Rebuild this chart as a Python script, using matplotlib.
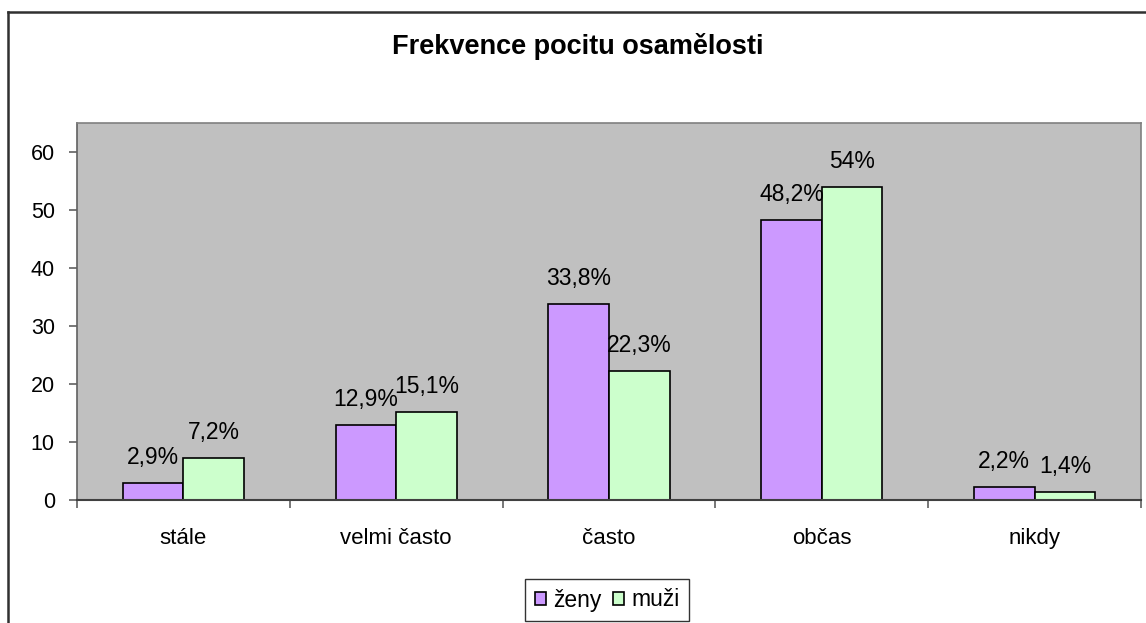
import matplotlib.pyplot as plt
import numpy as np
from matplotlib.lines import Line2D

plt.rcParams['font.family'] = ['Liberation Sans', 'DejaVu Sans']

# data
categories = ['stále', 'velmi často', 'často', 'občas', 'nikdy']
zeny = [2.9, 12.9, 33.8, 48.2, 2.2]
muzi = [7.2, 15.1, 22.3, 54.0, 1.4]
zeny_labels = ['2,9%', '12,9%', '33,8%', '48,2%', '2,2%']
muzi_labels = ['7,2%', '15,1%', '22,3%', '54%', '1,4%']

fig = plt.figure(figsize=(11.46, 6.23), dpi=100)
ax = fig.add_axes([77 / 1146, 1 - 500 / 623, (1141 - 77) / 1146, (500 - 122.7) / 623])
ax.set_facecolor('#C0C0C0')

x = np.arange(len(categories))
w = 0.285
b1 = ax.bar(x - w / 2, zeny, w, color='#CC99FF', edgecolor='black', linewidth=1.2, label='ženy')
b2 = ax.bar(x + w / 2, muzi, w, color='#CCFFCC', edgecolor='black', linewidth=1.2, label='muži')

for bars, labels in ((b1, zeny_labels), (b2, muzi_labels)):
    for bar, lab in zip(bars, labels):
        ax.annotate(lab, (bar.get_x() + bar.get_width() / 2, bar.get_height()),
                    xytext=(0, 13.7), textcoords='offset points',
                    ha='center', va='baseline', fontsize=16.5)

ax.set_xlim(-0.5, len(categories) - 0.5)
ax.set_ylim(0, 65)
ax.set_yticks(range(0, 61, 10))
ax.set_xticks(x)
ax.set_xticklabels(categories)
ax.set_xticks(np.arange(-0.5, len(categories), 1), minor=True)
ax.tick_params(axis='x', which='major', length=0, pad=20, labelsize=16)
ax.tick_params(axis='x', which='minor', length=6, width=1.2, color='#606060')
ax.tick_params(axis='y', length=6, width=1.2, color='#606060', pad=10, labelsize=15.5)

for s in ('top', 'right'):
    ax.spines[s].set_color('#808080')
    ax.spines[s].set_linewidth(1.2)
ax.spines['left'].set_color('#606060')
ax.spines['bottom'].set_color('#404040')
ax.spines['left'].set_linewidth(1.2)
ax.spines['bottom'].set_linewidth(1.5)

fig.text(578 / 1146, 1 - 46 / 623, 'Frekvence pocitu osamělosti', ha='center', va='center',
         fontsize=19.5, fontweight='bold')

leg = fig.legend(loc='center', bbox_to_anchor=(607 / 1146, 1 - 600 / 623), ncol=2, fontsize=16.5,
                 frameon=True, fancybox=False, edgecolor='black', handlelength=0.5, handleheight=0.5,
                 handletextpad=0.3, columnspacing=0.5, borderpad=0.4, borderaxespad=0)
leg.get_frame().set_linewidth(1.0)
for h in leg.legend_handles:
    h.set_linewidth(1.2)

# outer chart border (right and bottom sides fall outside the picture)
fig.add_artist(Line2D([8 / 1146, 1.0], [1 - 12 / 623, 1 - 12 / 623], transform=fig.transFigure,
                      color='#303030', linewidth=1.8))
fig.add_artist(Line2D([8 / 1146, 8 / 1146], [1 - 12 / 623, 0.0], transform=fig.transFigure,
                      color='#303030', linewidth=1.8))

fig.savefig('out.png', dpi=100)
